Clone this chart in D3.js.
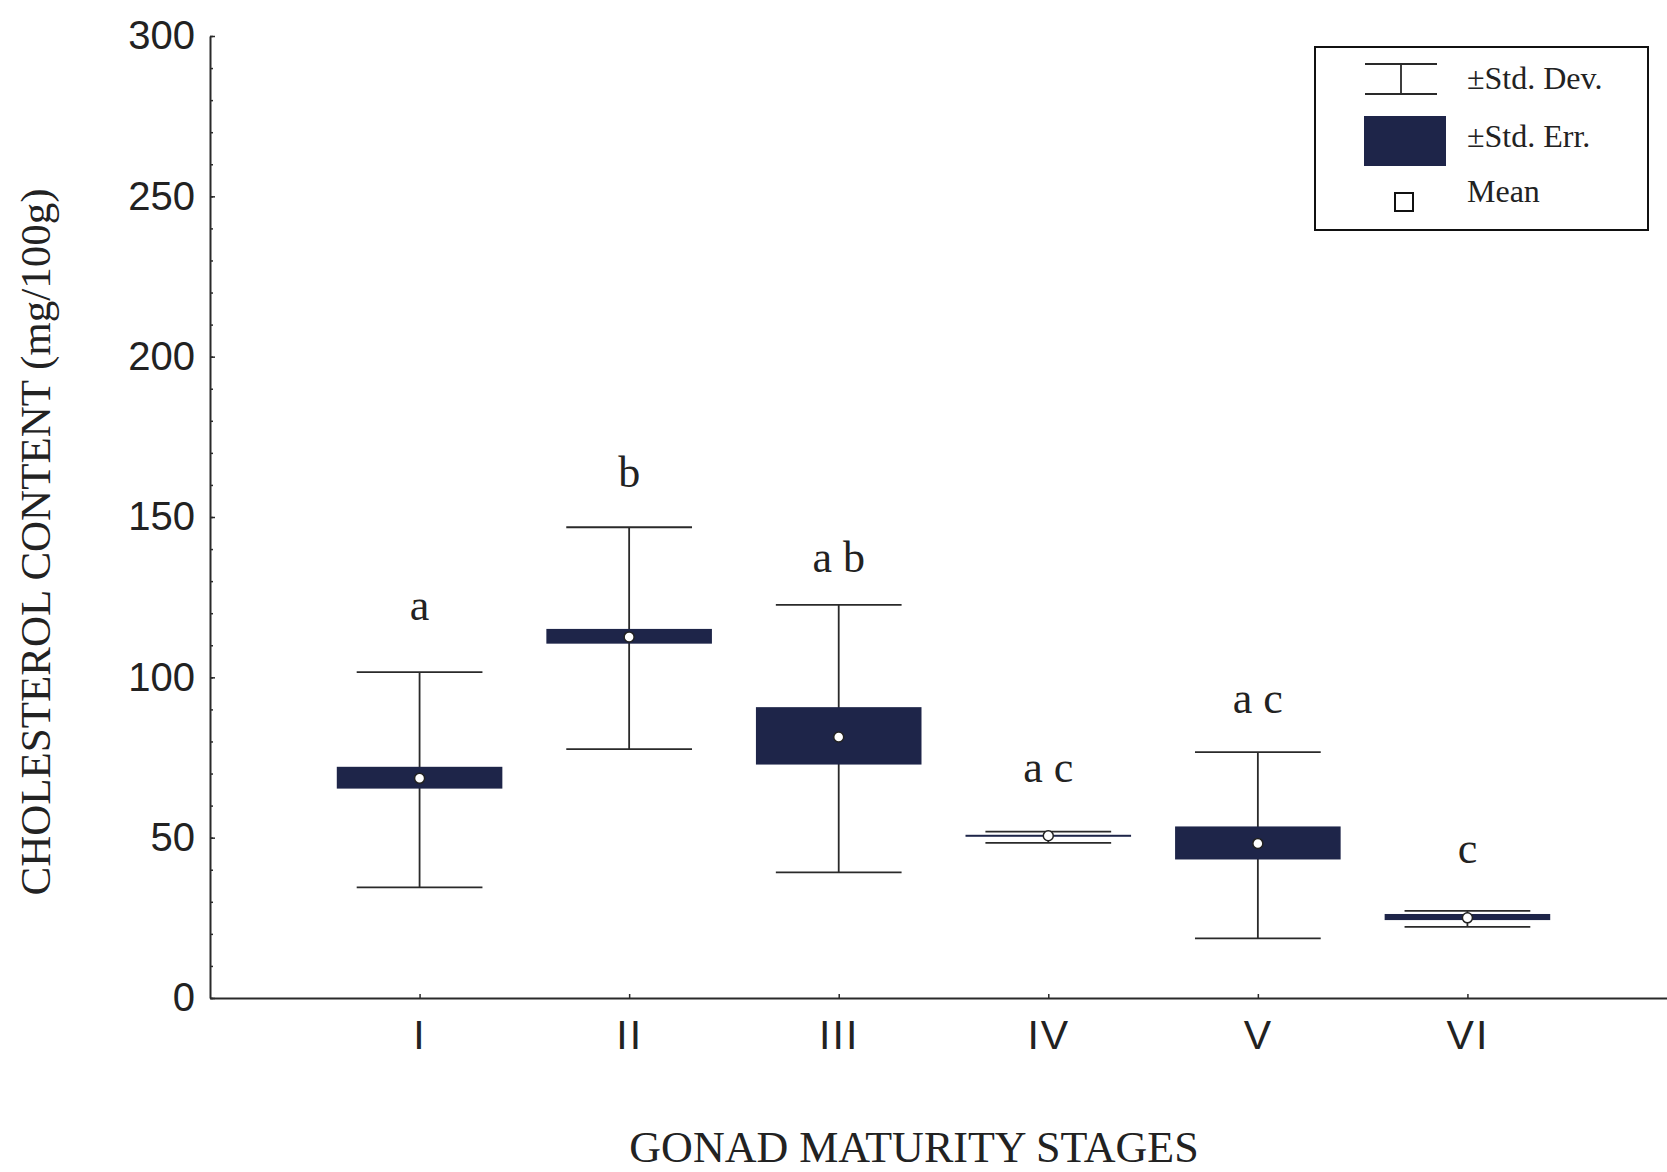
<!DOCTYPE html>
<html>
<head>
<meta charset="utf-8">
<script src="https://cdn.jsdelivr.net/npm/d3@7"></script>
<style>
  html, body { margin: 0; padding: 0; background: #ffffff; }
  svg { display: block; }
</style>
</head>
<body>
<div id="chart"></div>
<script>
//Chart Data
const stages = ["I", "II", "III", "IV", "V", "VI"];
const means = [68.5, 112.6, 81.4, 50.6, 48.2, 25.0];
const seLow = [65.3, 110.5, 72.8, 50.3, 43.2, 24.3];
const seHigh = [72.1, 115.1, 90.7, 50.9, 53.5, 26.2];
const sdLow = [34.5, 77.6, 39.2, 48.4, 18.6, 22.2];
const sdHigh = [101.6, 146.8, 122.6, 51.9, 76.7, 27.2];
const groupLetters = ["a", "b", "a b", "a c", "a c", "c"];
const letterLevels = [117.8, 159.4, 132.9, 67.3, 88.8, 42.0];
const yTicks = [0, 50, 100, 150, 200, 250, 300];
const yMinorTicks = d3.range(0, 301, 10);

//Chart Variables and Constants
const width = 1667;
const height = 1172;
const boxColor = "#1e2549";
const lineColor = "#2a2a2a";
const serif = "'Liberation Serif', 'Times New Roman', serif";
const sans = "'Liberation Sans', Arial, sans-serif";

const rows = stages.map((s, i) => ({
  stage: s,
  mean: means[i],
  seLow: seLow[i],
  seHigh: seHigh[i],
  sdLow: sdLow[i],
  sdHigh: sdHigh[i],
  letter: groupLetters[i],
  letterLevel: letterLevels[i],
}));

//Scales
const x = d3.scalePoint().domain(stages).range([210, 1677]).padding(1);
const y = d3.scaleLinear().domain([0, 300]).range([998, 36]);
const step = x.step();
const boxHalf = step * 0.395;
const capHalf = step * 0.3;

//SVG
const svg = d3
  .select("#chart")
  .append("svg")
  .attr("width", width)
  .attr("height", height)
  .style("background-color", "#ffffff");

//Y Axis (minor ticks first, inward)
svg
  .append("g")
  .attr("transform", "translate(210,0)")
  .call(d3.axisLeft(y).tickValues(yMinorTicks).tickSizeInner(-3).tickSizeOuter(0).tickFormat(""))
  .call((g) => g.select(".domain").remove())
  .call((g) => g.selectAll("line").attr("stroke", lineColor).attr("stroke-width", 1.5));

svg
  .append("g")
  .attr("transform", "translate(210,0)")
  .call(d3.axisLeft(y).tickValues(yTicks).tickSizeInner(-5).tickSizeOuter(0).tickPadding(15))
  .call((g) => g.select(".domain").attr("stroke", lineColor).attr("stroke-width", 2))
  .call((g) => g.selectAll("line").attr("stroke", lineColor).attr("stroke-width", 1.5))
  .call((g) =>
    g.selectAll("text").attr("font-family", sans).attr("font-size", "40px").attr("fill", "#222")
  );

//X Axis
svg
  .append("g")
  .attr("transform", `translate(0,${y(0)})`)
  .call(d3.axisBottom(x).tickSizeInner(-4).tickSizeOuter(0).tickPadding(22))
  .call((g) => g.select(".domain").attr("stroke", lineColor).attr("stroke-width", 2))
  .call((g) => g.selectAll("line").attr("stroke", lineColor).attr("stroke-width", 1.5))
  .call((g) =>
    g
      .selectAll("text")
      .attr("font-family", sans)
      .attr("font-size", "41px")
      .attr("letter-spacing", "2px")
      .attr("fill", "#222")
  );

//Groups
const groups = svg
  .append("g")
  .selectAll("g")
  .data(rows)
  .enter()
  .append("g")
  .attr("transform", (d) => `translate(${x(d.stage)},0)`);

//Whisker stems
groups
  .append("line")
  .attr("x1", 0)
  .attr("x2", 0)
  .attr("y1", (d) => y(d.sdHigh))
  .attr("y2", (d) => y(d.sdLow))
  .attr("stroke", lineColor)
  .attr("stroke-width", 1.8);

//Whisker caps
["sdHigh", "sdLow"].forEach((key) => {
  groups
    .append("line")
    .attr("x1", -capHalf)
    .attr("x2", capHalf)
    .attr("y1", (d) => y(d[key]))
    .attr("y2", (d) => y(d[key]))
    .attr("stroke", lineColor)
    .attr("stroke-width", 1.8);
});

//Std. Err. boxes
groups
  .append("rect")
  .attr("x", -boxHalf)
  .attr("width", boxHalf * 2)
  .attr("y", (d) => y(d.seHigh))
  .attr("height", (d) => Math.max(y(d.seLow) - y(d.seHigh), 2))
  .attr("fill", boxColor);

//Means
groups
  .append("circle")
  .attr("cx", 0)
  .attr("cy", (d) => y(d.mean))
  .attr("r", 5)
  .attr("fill", "#ffffff")
  .attr("stroke", "#222")
  .attr("stroke-width", 1.5);

//Significance letters
groups
  .append("text")
  .attr("x", 0)
  .attr("y", (d) => y(d.letterLevel))
  .attr("text-anchor", "middle")
  .attr("font-family", serif)
  .attr("font-size", "44px")
  .attr("fill", "#222")
  .text((d) => d.letter);

//Axis Titles
svg
  .append("text")
  .attr("transform", `translate(50,${542}) rotate(-90)`)
  .attr("text-anchor", "middle")
  .attr("font-family", serif)
  .attr("font-size", "43px")
  .attr("fill", "#222")
  .text("CHOLESTEROL CONTENT (mg/100g)");

svg
  .append("text")
  .attr("x", 914)
  .attr("y", 1162)
  .attr("text-anchor", "middle")
  .attr("font-family", serif)
  .attr("font-size", "44px")
  .attr("fill", "#222")
  .text("GONAD MATURITY STAGES");

//Legend
const legend = svg.append("g").attr("transform", "translate(1315,47)");

legend
  .append("rect")
  .attr("width", 333)
  .attr("height", 183)
  .attr("fill", "#ffffff")
  .attr("stroke", "#111")
  .attr("stroke-width", 2);

//Std. Dev. symbol
legend
  .append("path")
  .attr("d", "M50,17H122M86,17V47M50,47H122")
  .attr("fill", "none")
  .attr("stroke", lineColor)
  .attr("stroke-width", 1.8);

//Std. Err. symbol
legend
  .append("rect")
  .attr("x", 49)
  .attr("y", 69)
  .attr("width", 82)
  .attr("height", 50)
  .attr("fill", boxColor);

//Mean symbol
legend
  .append("rect")
  .attr("x", 80)
  .attr("y", 146)
  .attr("width", 18)
  .attr("height", 18)
  .attr("fill", "#ffffff")
  .attr("stroke", "#111")
  .attr("stroke-width", 2);

const legendLabels = [
  { text: "\u00b1Std. Dev.", y: 42 },
  { text: "\u00b1Std. Err.", y: 100 },
  { text: "Mean", y: 155 },
];

legend
  .selectAll(".legend-label")
  .data(legendLabels)
  .enter()
  .append("text")
  .attr("class", "legend-label")
  .attr("x", 152)
  .attr("y", (d) => d.y)
  .attr("font-family", serif)
  .attr("font-size", "32px")
  .attr("fill", "#222")
  .text((d) => d.text);
</script>
</body>
</html>
